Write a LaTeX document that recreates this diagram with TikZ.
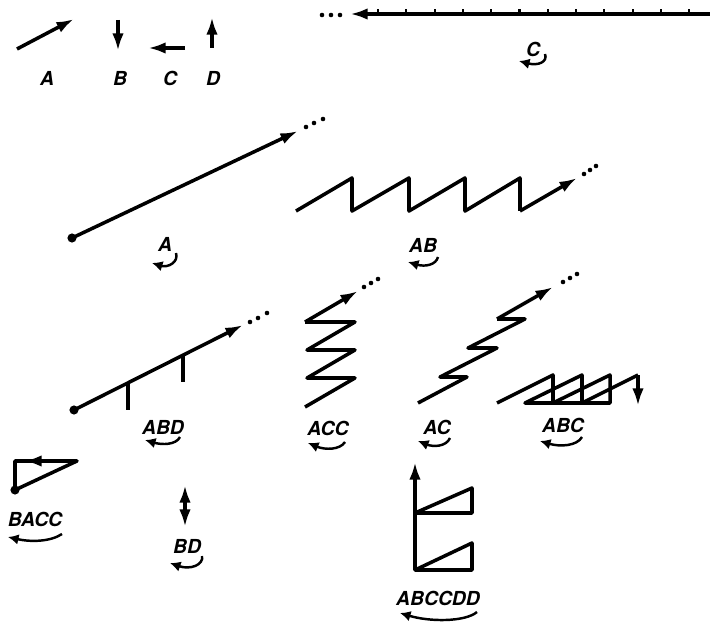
\documentclass[tikz,border=0pt]{standalone}
\usepackage{fontspec}
\setmainfont{TeX Gyre Heros}
\usetikzlibrary{arrows.meta}

\begin{document}
\begin{tikzpicture}[
		x=0.02cm, y=-0.02cm,
		line join=round,
		stroke/.style={line width=2pt},
		vec/.style={line width=2pt, -{Latex[length=10pt,width=6.5pt]}},
		lbl/.style={font=\fontsize{11}{13}\selectfont\bfseries\itshape, inner sep=0pt},
		sweep/.style={line width=1.4pt, -{Latex[length=6pt,width=6pt]}},
		tick/.style={line width=1.2pt}
	]
	\useasboundingbox (0,0) rectangle (710,628);

	% Grundvektoren
	\draw[vec] (17,49) -- (74,19);
	\draw[vec] (118,20) -- (118,51);
	\draw[vec] (185,48) -- (148,48);
	\draw[vec] (212,48) -- (212,17);
	\node[lbl] (lA) at (47,78) {A};
	\node[lbl] (lB) at (120,78) {B};
	\node[lbl] (lC) at (170,78) {C};
	\node[lbl] (lD) at (213,78) {D};

	% Folge C
	\draw[vec] (710,14) -- (350,14);
	\foreach \k in {0,...,11}
		\draw[tick] ({378+28.3*\k},14) -- ({378+28.3*\k},9);
	\foreach \x in {322,331,340}
		\fill (\x,15) circle (1.3pt);
	\node[lbl] (sC) at (533,49) {C};
	\draw[sweep] (545,54) .. controls (548,62) and (538,66) .. (519,61);

	% Folge A
	\fill (72,238) circle (2.6pt);
	\draw[vec] (72,238) -- (298,131);
	\foreach \x/\y in {306/127,314/123,323/119}
		\fill (\x,\y) circle (1.3pt);
	\node[lbl] (sA) at (165,244) {A};
	\draw[sweep] (176,253) .. controls (179,262) and (168,268) .. (152,263);

	% Folge AB
	\draw[stroke] (296,211) -- (352,178) -- (352,211) -- (409,178) -- (409,211)
		-- (465,178) -- (465,211) -- (520,178) -- (520,211);
	\draw[vec] (520,211) -- (577,178);
	\foreach \x/\y in {584/174,590/170,596/166}
		\fill (\x,\y) circle (1.3pt);
	\node[lbl] (sAB) at (423,245) {AB};
	\draw[sweep] (438,257) .. controls (436,265) and (425,267) .. (408,262);

	% Folge ABD
	\fill (74,410) circle (2.6pt);
	\draw[vec] (74,410) -- (243,325);
	\draw[stroke] (128,383) -- (128,410);
	\draw[stroke] (183,355) -- (183,382);
	\foreach \x/\y in {250/322,258/318,267/313}
		\fill (\x,\y) circle (1.3pt);
	\node[lbl] (sABD) at (163,427) {ABD};
	\draw[sweep] (180,437) .. controls (176,445) and (162,445) .. (145,440);

	% Folge ACC
	\draw[stroke] (305,407) -- (355,378) -- (307,378) -- (355,350) -- (307,350)
		-- (355,322) -- (305,322);
	\draw[vec] (305,322) -- (358,291);
	\foreach \x/\y in {364/287,371/283,378/279}
		\fill (\x,\y) circle (1.3pt);
	\node[lbl] (sACC) at (328,428) {ACC};
	\draw[sweep] (345,442) .. controls (340,450) and (325,450) .. (308,443);

	% Folge AC
	\draw[stroke] (418,403) -- (467,377) -- (440,377) -- (497,348) -- (468,348)
		-- (525,319) -- (497,319);
	\draw[vec] (497,319) -- (553,287);
	\foreach \x/\y in {563/282,570/278,577/274}
		\fill (\x,\y) circle (1.3pt);
	\node[lbl] (sAC) at (437,427) {AC};
	\draw[sweep] (450,438) .. controls (446,447) and (433,447) .. (418,441);

	% Folge ABC
	\draw[stroke] (497,403) -- (553,375) -- (553,403) -- (525,403) -- (582,375)
		-- (582,403) -- (553,403) -- (610,375) -- (610,403) -- (582,403) -- (638,375);
	\draw[vec] (638,375) -- (638,406);
	\node[lbl] (sABC) at (563,425) {ABC};
	\draw[sweep] (582,437) .. controls (577,446) and (560,447) .. (540,441);

	% Folge BACC
	\fill (15,490) circle (2.6pt);
	\draw[stroke] (77,461) -- (15,461) -- (15,490) -- cycle;
	\draw[vec] (77,461) -- (24,461);
	\node[lbl] (sBACC) at (35,519) {BACC};
	\draw[sweep] (62,534) .. controls (50,542) and (30,542) .. (8,537);

	% Folge BD
	\draw[line width=2pt, {Latex[length=10pt,width=6.5pt]}-{Latex[length=10pt,width=6.5pt]}] (185,485) -- (185,527);
	\node[lbl] (sBD) at (187,546) {BD};
	\draw[sweep] (202,556) .. controls (204,565) and (190,570) .. (170,563);

	% Folge ABCCDD
	\draw[stroke] (415,570) -- (472,543) -- (472,570) -- (415,570) -- (415,513)
		-- (472,488) -- (472,513) -- (415,513);
	\draw[vec] (415,513) -- (415,462);
	\node[lbl] (sABCCDD) at (438,598) {ABCCDD};
	\draw[sweep] (477,612) .. controls (465,622) and (430,622) .. (400,613);
\end{tikzpicture}
\end{document}
